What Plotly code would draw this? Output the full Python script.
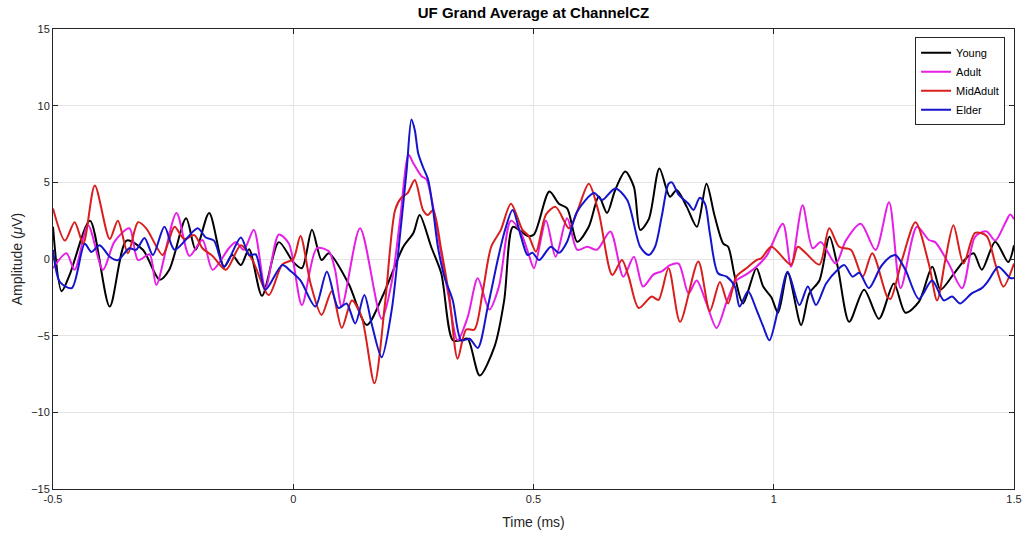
import plotly.graph_objects as go

# ---- Data ----
young_t = [-0.5, -0.482, -0.465, -0.423, -0.382, -0.347, -0.313, -0.278, -0.258, -0.223, -0.203, -0.175,
           -0.144, -0.127, -0.109, -0.092, -0.065, -0.030, 0.0, 0.018, 0.039, 0.059, 0.074, 0.115, 0.153,
           0.187, 0.229, 0.250, 0.263, 0.287, 0.308, 0.332, 0.350, 0.363, 0.388, 0.419, 0.439, 0.457,
           0.474, 0.488, 0.501, 0.533, 0.553, 0.570, 0.591, 0.615, 0.636, 0.653, 0.670, 0.691, 0.709,
           0.722, 0.740, 0.762, 0.784, 0.798, 0.819, 0.840, 0.860, 0.877, 0.895, 0.905, 0.919, 0.936,
           0.964, 0.978, 0.995, 1.009, 1.029, 1.057, 1.074, 1.095, 1.116, 1.133, 1.157, 1.188, 1.219,
           1.250, 1.274, 1.302, 1.330, 1.347, 1.374, 1.399, 1.416, 1.433, 1.461, 1.488, 1.5]
young_v = [2.1, -2.1, -1.0, 2.5, -3.1, 1.2, 0.6, -1.35, -0.7, 2.65, 0.6, 3.0,
           -0.5, 0.26, -0.4, 0.63, -2.4, 1.1, -0.2, -0.6, 1.9, -0.07, 0.37, -1.6, -4.3,
           -2.35, 0.8, 1.7, 2.87, 0.8, -0.93, -5.3, -5.3, -5.2, -7.6, -5.7, -2.7, 2.1,
           1.8, 1.5, 1.6, 4.4, 3.6, 3.3, 1.13, 2.1, 4.07, 3.0, 4.5, 5.7, 4.7,
           1.9, 2.6, 5.9, 4.06, 4.5, 3.4, 2.1, 4.9, 2.8, 1.0, 0.8, -1.15, -2.9,
           -0.6, -1.8, -2.5, -3.5, -0.9, -4.3, -2.24, -1.4, 1.45, -0.5, -4.1, -2.0, -3.9,
           -1.6, -3.5, -2.8, -0.5, -2.0, -1.0, 0.0, 0.37, -0.7, 1.13, -0.2, 0.9]

adult_t = [-0.5, -0.472, -0.455, -0.427, -0.396, -0.372, -0.341, -0.323, -0.299, -0.285, -0.243, -0.216,
           -0.189, -0.168, -0.134, -0.120, -0.103, -0.082, -0.058, -0.030, -0.009, 0.018, 0.049, 0.074,
           0.087, 0.101, 0.139, 0.184, 0.205, 0.222, 0.240, 0.249, 0.267, 0.277, 0.287, 0.322, 0.342,
           0.363, 0.384, 0.408, 0.428, 0.453, 0.474, 0.490, 0.501, 0.526, 0.546, 0.570, 0.591, 0.612,
           0.632, 0.660, 0.687, 0.709, 0.728, 0.750, 0.767, 0.784, 0.802, 0.8225, 0.8395, 0.860, 0.881,
           0.902, 0.922, 0.943, 0.964, 0.985, 1.019, 1.036, 1.060, 1.081, 1.098, 1.129, 1.150, 1.181,
           1.212, 1.240, 1.264, 1.298, 1.323, 1.336, 1.364, 1.392, 1.419, 1.443, 1.461, 1.481, 1.492, 1.5]
adult_v = [-0.6, 0.37, -0.7, 2.2, -0.7, 1.13, 2.0, -0.07, 0.3, -1.7, 3.0, 0.2,
           1.24, -0.7, 0.7, 1.1, 0.6, 1.9, -1.9, 1.6, 1.0, -3.0, 0.7, 0.5,
           -0.7, -3.1, 2.0, -3.9, -1.5, 2.5, 6.8, 6.3, 5.4, 5.2, 4.06, -2.2, -5.3,
           -3.8, -1.26, -3.3, -1.8, 2.5, 1.7, 0.3, -0.6, 2.5, 0.15, 2.65, 0.6, 0.8,
           0.6, 1.8, -1.15, 0.15, -1.8, -1.0, -0.8, -0.4, -0.3, -2.24, -1.4, -2.9, -4.5,
           -2.8, -1.4, -1.0, -0.5, 0.2, 2.3, -0.5, 3.5, 0.7, 1.1, -0.3, 1.2, 2.3,
           0.59, 3.7, -1.9, 2.1, 1.24, 1.1, -0.3, -1.9, 1.45, 1.8, 1.2, 2.3, 2.9, 2.6]

midadult_t = [-0.5, -0.475, -0.455, -0.437, -0.413, -0.382, -0.365, -0.344, -0.323, -0.306, -0.272, -0.258,
              -0.247, -0.227, -0.206, -0.189, -0.168, -0.140, -0.109, -0.085, -0.051, -0.023, 0.0, 0.015,
              0.036, 0.059, 0.080, 0.101, 0.122, 0.1425, 0.169, 0.191, 0.212, 0.225, 0.238, 0.253, 0.270,
              0.2805, 0.291, 0.308, 0.325, 0.342, 0.360, 0.377, 0.394, 0.412, 0.432, 0.453, 0.477, 0.490,
              0.505, 0.526, 0.546, 0.574, 0.591, 0.615, 0.636, 0.664, 0.684, 0.698, 0.719, 0.746, 0.760,
              0.781, 0.805, 0.843, 0.867, 0.888, 0.905, 0.922, 0.943, 0.964, 0.974, 0.995, 1.036, 1.050,
              1.067, 1.095, 1.1155, 1.136, 1.1605, 1.185, 1.205, 1.236, 1.243, 1.2675, 1.295, 1.3226,
              1.340, 1.357, 1.374, 1.395, 1.419, 1.443, 1.461, 1.478, 1.5]
midadult_v = [3.3, 1.2, 2.4, 1.0, 4.8, 1.3, 2.5, 0.37, 2.4, 2.0, 0.26, 1.3,
              2.1, 1.3, 1.56, 0.7, 0.2, -0.7, 0.9, -0.07, -2.35, -0.37, 0.0, 1.5,
              -1.6, -3.65, -2.1, -4.5, -2.7, -3.8, -8.1, -2.9, 3.2, 4.0, 4.3, 5.15, 3.2,
              2.87, 3.2, 0.6, -2.5, -6.5, -4.6, -4.6, -2.2, 0.8, 1.9, 3.6, 1.9, 1.5,
              0.48, 2.9, 3.4, 2.0, 3.1, 4.9, 3.0, -1.04, -0.06, -1.15, -3.2, -2.45, -2.67,
              -0.6, -4.1, -0.17, -3.4, -1.5, -2.9, -1.15, -0.6, -0.07, 0.04, 0.8, -0.37, 0.8,
              0.37, -0.37, 2.0, 0.8, 0.6, -1.15, 0.37, -2.45, -2.6, 0.0, 2.4, -0.3,
              -2.7, -0.07, 2.2, -0.3, 1.7, 1.5, -0.3, -1.8, -0.3]

elder_t = [-0.5, -0.4855, -0.461, -0.434, -0.42, -0.403, -0.382, -0.365, -0.341, -0.327, -0.3095, -0.292,
           -0.268, -0.247, -0.199, -0.182, -0.165, -0.144, -0.109, -0.092, -0.078, -0.058, -0.023, -0.005,
           0.015, 0.046, 0.070, 0.094, 0.111, 0.129, 0.148, 0.163, 0.184, 0.205, 0.222, 0.236, 0.246,
           0.253, 0.260, 0.270, 0.2805, 0.291, 0.301, 0.315, 0.332, 0.3495, 0.367, 0.384, 0.405, 0.4255,
           0.439, 0.4565, 0.474, 0.4876, 0.498, 0.5118, 0.536, 0.553, 0.570, 0.591, 0.626, 0.643, 0.670,
           0.695, 0.722, 0.7395, 0.753, 0.767, 0.781, 0.788, 0.802, 0.8225, 0.833, 0.846, 0.857, 0.867,
           0.884, 0.902, 0.919, 0.929, 0.9465, 0.964, 0.978, 0.991, 1.009, 1.029, 1.0535, 1.071, 1.088,
           1.109, 1.133, 1.147, 1.164, 1.178, 1.198, 1.223, 1.243, 1.2536, 1.274, 1.302, 1.3295, 1.354,
           1.371, 1.388, 1.412, 1.433, 1.447, 1.4675, 1.492, 1.5]
elder_v = [0.6, -1.5, -1.9, 1.0, 0.46, 0.9, 0.15, -0.07, 0.7, 0.6, 1.37, 0.26,
           2.1, 0.6, 2.0, 1.4, 1.2, -0.5, 1.4, 0.26, 0.3, -2.0, -0.4, -0.8,
           -1.4, -3.1, -0.83, -3.2, -2.9, -4.2, -2.35, -4.2, -6.4, -3.3, 1.5, 5.8, 9.1,
           8.4, 6.9, 6.0, 5.2, 3.2, 0.8, -1.2, -2.7, -5.3, -5.2, -5.8, -3.1, -0.07,
           1.7, 3.2, 1.45, 0.26, 0.4, -0.07, 0.8, 0.4, 1.13, 3.1, 4.3, 3.85, 4.6,
           3.85, 0.8, 0.26, 0.8, 2.8, 4.9, 5.0, 4.2, 3.6, 3.2, 4.0, 3.6, 1.68,
           -0.93, -1.15, -1.8, -3.1, -2.1, -3.3, -4.4, -5.3, -3.3, -0.83, -3.0, -1.8, -3.0,
           -1.6, -0.7, -0.4, -1.15, -0.9, -1.9, -0.5, 0.15, 0.26, -0.7, -2.6, -1.4, -2.7,
           -2.45, -2.9, -2.24, -1.9, -1.4, -0.5, -1.24, -1.24]

series_names = ["Young", "Adult", "MidAdult", "Elder"]
series_colors = ["#000000", "#e61ee6", "#d91e1e", "#1414cc"]
x_ticks = [-0.5, 0, 0.5, 1, 1.5]
x_tick_labels = ["-0.5", "0", "0.5", "1", "1.5"]
y_ticks = [-15, -10, -5, 0, 5, 10, 15]

fig = go.Figure()
for name, color, t, v in zip(series_names, series_colors,
                             [young_t, adult_t, midadult_t, elder_t],
                             [young_v, adult_v, midadult_v, elder_v]):
    fig.add_trace(go.Scatter(x=t, y=v, mode="lines", name=name,
                             line=dict(color=color, width=2, shape="spline", smoothing=0.8)))

axis_common = dict(showline=True, linecolor="#262626", linewidth=1, mirror="ticks",
                   ticks="inside", ticklen=5, tickcolor="#262626",
                   showgrid=True, gridcolor="#e3e3e3", gridwidth=1, zeroline=False,
                   tickfont=dict(family="Liberation Sans, Arial", size=11, color="#262626"))

fig.update_layout(
    width=1034, height=540,
    margin=dict(l=53, r=15, t=29, b=51),
    paper_bgcolor="white", plot_bgcolor="white",
    title=dict(text="<b>UF Grand Average at ChannelCZ</b>", x=0.5, xref="paper", xanchor="center",
               y=1 - 13 / 540, yref="container", yanchor="middle",
               font=dict(family="Liberation Sans, Arial", size=15, color="#000000")),
    xaxis=dict(range=[-0.5, 1.5], tickvals=x_ticks, ticktext=x_tick_labels,
               title=dict(text="Time (ms)", standoff=12,
                          font=dict(family="Liberation Sans, Arial", size=14, color="#262626")),
               **axis_common),
    yaxis=dict(range=[-15, 15], tickvals=y_ticks,
               title=dict(text="Amplitude (<i>μ</i>V)", standoff=5,
                          font=dict(family="Liberation Sans, Arial", size=14, color="#262626")),
               **axis_common),
    legend=dict(x=0.9907, y=0.982, xanchor="right", yanchor="top",
                bgcolor="white", bordercolor="#262626", borderwidth=1,
                font=dict(family="Liberation Sans, Arial", size=11, color="#000000"),
                itemwidth=30, tracegroupgap=0),
    showlegend=True,
)

fig.write_html("out.html")
